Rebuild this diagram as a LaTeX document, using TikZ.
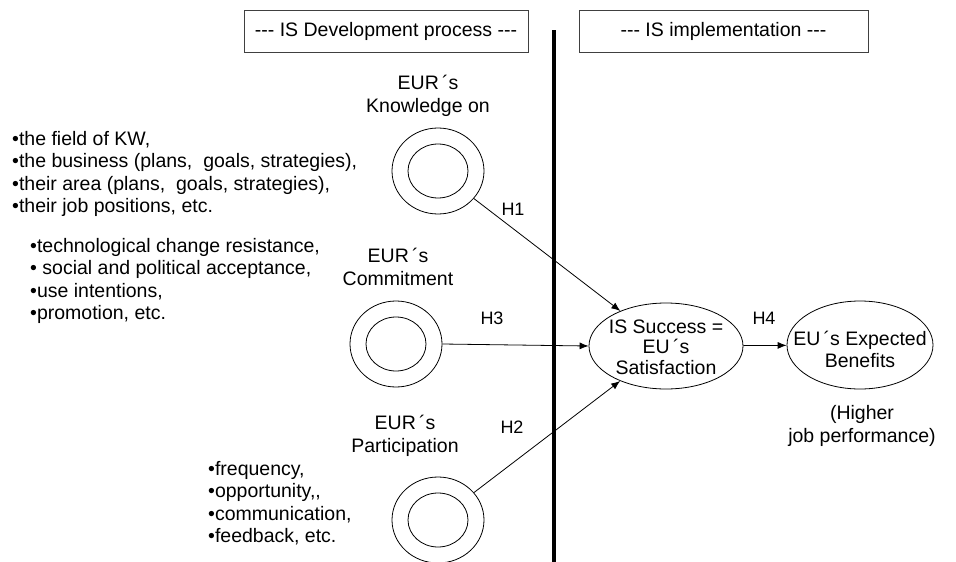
\documentclass[tikz,border=0pt]{standalone}
\usepackage{fontspec}
\setmainfont{Liberation Sans}
\usepackage{tikz}
\usetikzlibrary{arrows.meta, positioning, shapes.geometric}
\tikzset{%
	every ring/.style={
		ellipse,
		draw,
		line width=0.8pt,
		minimum width=92pt,
		minimum height=86pt
	},
	inner ring/.style={
		ellipse,
		draw,
		line width=0.8pt,
		minimum width=60pt,
		minimum height=54pt
	},
	goal/.style={
		ellipse,
		draw,
		line width=0.8pt
	},
	phase box/.style={
		draw=black!75,
		line width=0.8pt,
		minimum width=284pt,
		minimum height=42pt
	},
	hyp/.style={-{Latex[length=9pt,width=7pt]}, line width=0.8pt},
	hyp label/.style={font=\fontsize{18}{20}\selectfont},
	item list/.style={align=left, anchor=west, inner sep=0pt},
	title/.style={align=center, inner sep=0pt},
}

\begin{document}
\begin{tikzpicture}[x=1pt, y=-1pt, font=\fontsize{19.5}{22.5}\selectfont]
	\useasboundingbox (0,0) rectangle (956,562);
	% Define the two phases and the border between them
	\node[phase box] (devbox) at (386,31) {-{}-{}- IS Development process -{}-{}-};
	\node[phase box, minimum width=289pt] (impbox) at (723.5,31) {-{}-{}- IS implementation -{}-{}-};
	\coordinate (divtop) at (554,30);
	\coordinate (divbot) at (554,562);
	\draw[line width=4pt] (divtop) -- (divbot);
	
	% Loop through the three constructs to draw the double rings
	\foreach \nm/\x/\y in {know/438/171, comm/396/344, part/438/520} {
		\node[every ring] (\nm) at (\x,\y) {};
		\node[inner ring] (\nm-in) at (\nm) {};
	}
	
	% Titles above the rings
	\node[title] (know-title) at (428,96) {EUR\,´s\\Knowledge on};
	\node[title] (comm-title) at (398,267) {EUR\,´s\\Commitment};
	\node[title] (part-title) at (405,436) {EUR\,´s\\Participation};
	
	% Items of every construct
	\node[item list] (know-items) at (12,174) {•the field of KW,\\•the business (plans,~ goals, strategies),\\•their area (plans,~ goals, strategies),\\•their job positions, etc.};
	\node[item list] (comm-items) at (30,281) {•technological change resistance,\\• social and political acceptance,\\•use intentions,\\•promotion, etc.};
	\node[item list] (part-items) at (208,503) {•frequency,\\•opportunity,{},\\•communication,\\•feedback, etc.};
	
	% Success and benefits
	\node[goal, minimum width=154pt, minimum height=86pt,
		label={[align=center, font=\fontsize{19.5}{20.5}\selectfont, yshift=-1pt]center:IS Success =\\EU\,´s\\Satisfaction}] (succ) at (666,346) {};
	\node[goal, minimum width=146pt, minimum height=88pt,
		label={[align=center, font=\fontsize{19.5}{22}\selectfont, yshift=-4pt]center:EU\,´s Expected\\Benefits}] (ben) at (860,345) {};
	\node[title] (ben-note) at (862,426) {(Higher\\job performance)};
	
	% Hypotheses
	\draw[hyp] (know) -- (succ);
	\draw[hyp] (comm.east) -- (succ.west);
	\draw[hyp] (part) -- (succ);
	\draw[hyp] (succ) -- (ben);
	\node[hyp label] (h1) at (513,209) {H1};
	\node[hyp label] (h3) at (492,318) {H3};
	\node[hyp label] (h2) at (512,427) {H2};
	\node[hyp label] (h4) at (764,318) {H4};
\end{tikzpicture}
\end{document}
